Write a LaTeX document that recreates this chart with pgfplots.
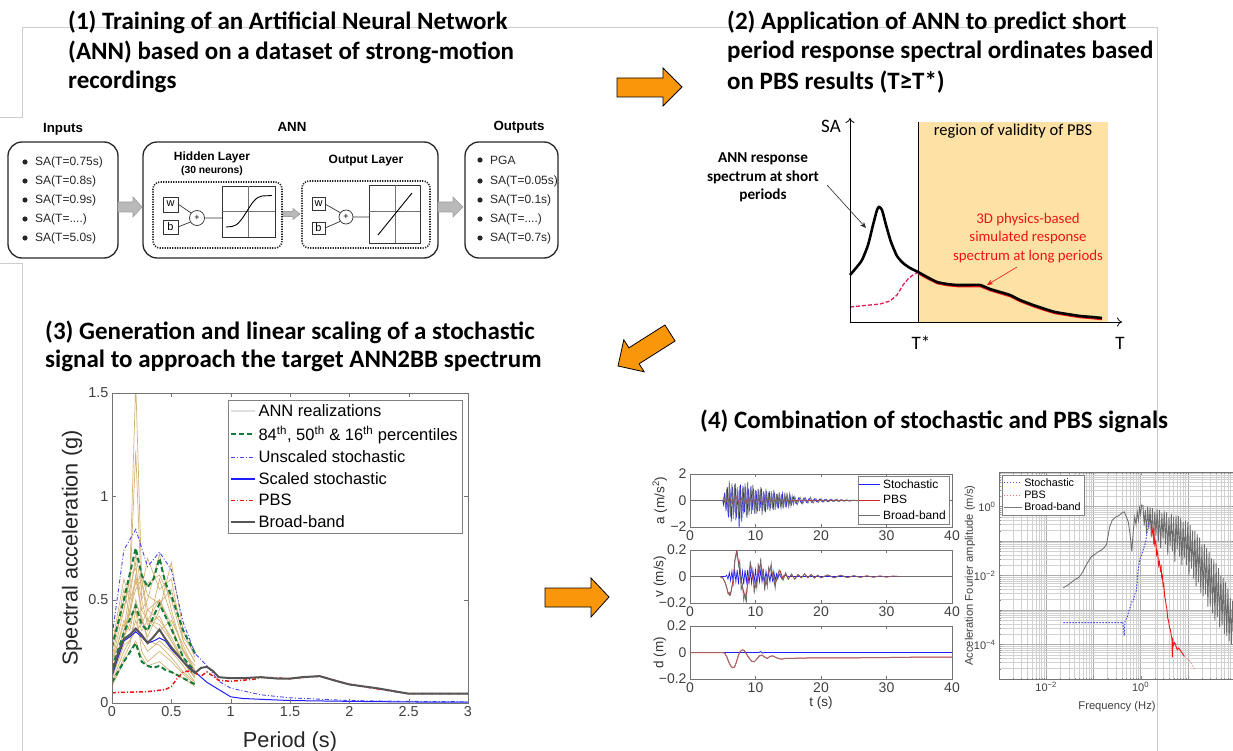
\documentclass[border=0pt]{standalone}
\usepackage{fontspec}
\setmainfont{Liberation Sans}
\newfontfamily\calfont{Carlito}
\usepackage{pgfplots}
\pgfplotsset{compat=1.18}
\usepackage{pgfplotstable}
\usetikzlibrary{arrows.meta}

\definecolor{orng}{RGB}{250,150,10}
\definecolor{tanl}{RGB}{212,178,118}
\definecolor{pgreen}{RGB}{20,125,60}
\definecolor{bblue}{RGB}{30,30,255}
\definecolor{ublue}{RGB}{70,70,235}
\definecolor{pbsred}{RGB}{240,20,20}
\definecolor{bbgray}{RGB}{85,85,85}
\definecolor{yreg}{RGB}{253,225,165}
\definecolor{frame}{RGB}{205,205,205}
\definecolor{tsred}{RGB}{210,40,35}
\definecolor{pinkred}{RGB}{232,25,85}

\pgfplotstableread{
T R1 R2 R3 R4 R5 R6 R7 R8 R9 R10 R11 R12 R13 R14 R15 R16
0 0.2 0.15 0.12 0.25 0.18 0.1 0.14 0.08 0.3 0.2 0.16 0.22 0.12 0.09 0.28 0.15
0.1 0.45 0.35 0.3 0.55 0.4 0.25 0.3 0.2 0.45 0.38 0.32 0.5 0.28 0.22 0.6 0.35
0.15 0.6 0.55 0.5 0.42 0.35 0.3 0.45 0.25 0.62 0.4 0.38 0.55 0.3 0.28 0.5 0.45
0.2 1.55 1.22 0.72 0.6 0.5 0.4 0.55 0.3 0.65 0.45 0.48 0.68 0.35 0.45 0.58 0.62
0.25 0.6 0.5 0.55 0.45 0.4 0.3 0.6 0.22 0.5 0.35 0.42 0.4 0.38 0.25 0.62 0.45
0.3 0.45 0.38 0.7 0.5 0.32 0.25 0.4 0.18 0.58 0.4 0.3 0.35 0.45 0.2 0.52 0.4
0.4 0.5 0.42 0.55 0.72 0.45 0.3 0.35 0.2 0.62 0.5 0.28 0.6 0.4 0.25 0.48 0.38
0.5 0.35 0.3 0.6 0.45 0.68 0.25 0.4 0.15 0.5 0.38 0.22 0.42 0.32 0.2 0.55 0.3
0.6 0.25 0.2 0.3 0.25 0.35 0.18 0.28 0.12 0.3 0.22 0.15 0.26 0.2 0.14 0.32 0.2
0.7 0.15 0.12 0.2 0.18 0.22 0.1 0.15 0.08 0.2 0.14 0.1 0.16 0.13 0.09 0.24 0.12
}\annreal

\pgfplotstableread{
T P84 P50 P16
0 0.27 0.17 0.1
0.1 0.5 0.34 0.2
0.2 0.75 0.47 0.29
0.25 0.62 0.38 0.2
0.3 0.56 0.35 0.18
0.35 0.6 0.42 0.17
0.4 0.7 0.48 0.18
0.45 0.58 0.42 0.16
0.5 0.52 0.36 0.15
0.6 0.35 0.22 0.12
0.7 0.24 0.15 0.09
}\perc

\begin{document}
\begin{tikzpicture}[x=1pt,y=1pt]
\useasboundingbox (0pt,0pt) rectangle (1233pt,-751pt);

\begin{scope}[y=-1pt]
\draw[frame,line width=1pt] (0,118)--(22,118)--(22,28)--(1157,28)--(1157,751);
\draw[frame,line width=1pt] (0,263)--(22,263)--(22,751);

\begin{scope}[every node/.style={anchor=west,font=\calfont\bfseries\fontsize{25}{28}\selectfont,inner sep=0pt}]
\node at (68,22) {(1) Training of an Artificial Neural Network};
\node at (68,52) {(ANN) based on a dataset of strong-motion};
\node at (68,82) {recordings};
\node at (727,22) {(2) Application of ANN to predict short};
\node at (727,52) {period response spectral ordinates based};
\node at (727,82) {on PBS results (T≥T*)};
\node at (45,332) {(3) Generation and linear scaling of a stochastic};
\node at (45,361) {signal to approach the target ANN2BB spectrum};
\node at (700,421) {(4) Combination of stochastic and PBS signals};
\end{scope}

\filldraw[fill=orng,draw=black,line width=0.8pt] (617,78)--(663,78)--(663,68)--(682,87)--(663,106)--(663,97)--(617,97)--cycle;
\filldraw[fill=orng,draw=black,line width=0.8pt] (545,588)--(591,588)--(591,578)--(609,597)--(591,617)--(591,607)--(545,607)--cycle;
\filldraw[fill=orng,draw=black,line width=0.8pt] (618,366)--(644.2,371.8)--(639.1,363.8)--(675.1,341.0)--(664.9,325.0)--(628.9,347.8)--(623.8,339.8)--cycle;

\begin{scope}[every node/.style={inner sep=0pt}]
\tikzset{annbox/.style={draw=black!85,line width=1.3pt,rounded corners=14pt},
 dotbox/.style={draw=black!85,line width=1.6pt,dash pattern=on 1.2pt off 1.3pt,rounded corners=7pt},
 garrow/.style={fill=gray!55,draw=gray!75,line width=0.6pt}}
\node[font=\bfseries\fontsize{13.3}{15}\selectfont] at (63,129) {Inputs};
\node[font=\bfseries\fontsize{13.3}{15}\selectfont] at (292,127) {ANN};
\node[font=\bfseries\fontsize{13.3}{15}\selectfont] at (519,127) {Outputs};
\draw[annbox] (8,142) rectangle (118,258);
\draw[annbox] (143,142) rectangle (438,258);
\draw[annbox] (465,142) rectangle (558,258);
\foreach \yy/\tt in {162/{SA(T=0.75s)},181/{SA(T=0.8s)},200/{SA(T=0.9s)},219/{SA(T=....)},238/{SA(T=5.0s)}}{
  \fill[black!85] (25,\yy) circle (2.6pt);
  \node[anchor=west,font=\fontsize{12}{14}\selectfont,text=black!85] at (35,\yy) {\tt};
}
\foreach \yy/\tt in {160/{PGA},181/{SA(T=0.05s)},200/{SA(T=0.1s)},219/{SA(T=....)},238/{SA(T=0.7s)}}{
  \fill[black!85] (480,\yy) circle (2.6pt);
  \node[anchor=west,font=\fontsize{12}{14}\selectfont,text=black!85] at (490,\yy) {\tt};
}
\draw[garrow] (118,202)--(133,202)--(133,197)--(142,207)--(133,217)--(133,212)--(118,212)--cycle;
\draw[garrow] (438,202)--(453,202)--(453,197)--(463,207)--(453,217)--(453,212)--(438,212)--cycle;
\draw[garrow] (283,211.5)--(293,211.5)--(293,208.5)--(300,214)--(293,219.5)--(293,216.5)--(283,216.5)--cycle;
\node[font=\bfseries\fontsize{12}{14}\selectfont] at (212,157) {Hidden Layer};
\node[font=\bfseries\fontsize{10.3}{12}\selectfont] at (212,171) {(30 neurons)};
\draw[dotbox] (153,182) rectangle (282,248);
\draw[black!80,line width=0.7pt] (163,197) rectangle (178,212);
\draw[black!80,line width=0.7pt] (163,220) rectangle (178,234);
\node[font=\fontsize{11}{12}\selectfont] at (170.5,204) {w};
\node[font=\fontsize{11}{12}\selectfont] at (170.5,227) {b};
\draw[black!80,line width=0.7pt] (197,218) circle (7.5pt);
\node[font=\fontsize{9}{10}\selectfont] at (197,218) {+};
\draw[black!80,line width=0.7pt] (178,204)--(191,213) (178,227)--(190.5,222) (204.5,218)--(222,218);
\draw[black!80,line width=0.7pt] (222,186) rectangle (275,237);
\draw[black!55,line width=0.6pt] (248,186)--(248,237) (222,211)--(275,211);
\draw[black,line width=0.9pt] (226,227)--(232,226.5) .. controls (244,225) and (250,197) .. (262,196)--(272,195.5);
\node[font=\bfseries\fontsize{12}{14}\selectfont] at (366,161) {Output Layer};
\draw[dotbox] (302,181) rectangle (430,248);
\draw[black!80,line width=0.7pt] (312,197) rectangle (325,210);
\draw[black!80,line width=0.7pt] (312,222) rectangle (325,234);
\node[font=\fontsize{11}{12}\selectfont] at (318.5,203.5) {w};
\node[font=\fontsize{11}{12}\selectfont] at (318.5,228) {b};
\draw[black!80,line width=0.7pt] (346,217) circle (7pt);
\node[font=\fontsize{9}{10}\selectfont] at (346,217) {+};
\draw[black!80,line width=0.7pt] (325,204)--(340,212.5) (325,228)--(340,221.5) (353,217)--(369,217);
\draw[black!80,line width=0.7pt] (369,185) rectangle (420,243);
\draw[black!55,line width=0.6pt] (395,185)--(395,243) (369,211)--(420,211);
\draw[black,line width=0.9pt] (378,235)--(412,193);
\end{scope}
\end{scope}

% ===== Panel 2: schematic =====
\begin{axis}[at={(850pt,-322pt)},anchor=south west,scale only axis,width=272pt,height=204pt,
  xmin=850,xmax=1122,ymin=0,ymax=204,axis lines=left,axis on top,
  axis line style={line width=0.8pt,-{To[length=5pt,width=9pt]}},
  xtick=\empty,ytick=\empty,clip=false]
\addplot[fill=yreg,draw=none] coordinates {(918,0)(1108,0)(1108,200)(918,200)} --cycle;
\addplot[black,line width=0.8pt] coordinates {(918,0)(918,200)};
\addplot[pinkred,line width=1.3pt,dash pattern=on 4pt off 2pt] coordinates {(850,15)(860,16)(870,17)(880,18)(890,21)(897,27)(903,37)(908,43)(913,47)(918,50)};
\addplot[pbsred,line width=1.5pt] coordinates {(918,48.5)(927,43.5)(937,38.5)(947,36.5)(957,35.5)(970,35.5)(980,35.5)(990,31.5)(1000,28.5)(1010,25.5)(1020,20.5)(1033,15.5)(1045,11.5)(1055,8.5)(1067,6.5)(1080,4.5)(1092,3.5)(1102,2.5)};
\addplot[black,line width=2.6pt,smooth,tension=0.4] coordinates {(850,47)(856,54)(862,62)(868,77)(873,97)(877,112)(879,115)(882,112)(886,97)(891,80)(897,66)(903,59)(910,54)(918,50)(927,45)(937,40)(947,38)(957,37)(970,37)(980,37)(990,33)(1000,30)(1010,27)(1020,22)(1033,17)(1045,13)(1055,10)(1067,8)(1080,6)(1092,5)(1102,4)};
\end{axis}
\begin{scope}[y=-1pt]
\node[font=\calfont\fontsize{19}{21}\selectfont] at (831,126) {SA};
\node[font=\calfont\fontsize{16.5}{18}\selectfont] at (1013,131) {region of validity of PBS};
\node[font=\calfont\fontsize{19}{21}\selectfont] at (921,343) {T*};
\node[font=\calfont\fontsize{19}{21}\selectfont] at (1120,343) {T};
\node[font=\calfont\bfseries\fontsize{15.2}{17}\selectfont] at (763,159) {ANN response};
\node[font=\calfont\bfseries\fontsize{15.2}{17}\selectfont] at (763,177) {spectrum at short};
\node[font=\calfont\bfseries\fontsize{15.2}{17}\selectfont] at (763,195) {periods};
\node[font=\calfont\fontsize{14.8}{17}\selectfont,text=pbsred] at (1028,220) {3D physics-based};
\node[font=\calfont\fontsize{14.8}{17}\selectfont,text=pbsred] at (1028,238) {simulated response};
\node[font=\calfont\fontsize{14.8}{17}\selectfont,text=pbsred] at (1028,257) {spectrum at long periods};
\draw[black!85,line width=0.6pt,-{Stealth[length=6pt,width=5pt]}] (827,185)--(866,228);
\draw[pbsred,line width=0.6pt,-{Stealth[length=6pt,width=5pt]}] (1017,267)--(987,285);
\end{scope}

% ===== Panel 3: spectral acceleration =====
\begin{axis}[at={(112pt,-703pt)},anchor=south west,scale only axis,width=356pt,height=310pt,
  xmin=0,xmax=3,ymin=0,ymax=1.5,
  xtick={0,0.5,1,1.5,2,2.5,3},xticklabels={0,0.5,1,1.5,2,2.5,3},
  ytick={0,0.5,1,1.5},yticklabels={0,0.5,1,1.5},
  tick label style={font=\fontsize{14.4}{16}\selectfont,text=black!75},
  axis line style={black!55},tick style={black!55},major tick length=4pt,
  axis on top,
  xlabel={Period (s)},ylabel={Spectral acceleration (g)},
  label style={font=\fontsize{21.7}{24}\selectfont,text=black!85},
  xlabel style={at={(axis description cs:0.5,-0.126)},anchor=center},
  ylabel style={at={(axis description cs:-0.112,0.5)},anchor=center},
  legend style={at={(axis description cs:0.983,0.977)},anchor=north east,draw=black!50,fill=white,
    font=\fontsize{16.5}{18}\selectfont,cells={anchor=west},inner sep=2pt,row sep=4.3pt},
  clip=true]
\addplot[tanl,line width=0.7pt,legend image code/.code={\draw[gray!25,line width=2.5pt] (0pt,0pt)--(24pt,0pt);}] table[x=T,y=R1]{\annreal};
\addlegendentry{ANN realizations}
\pgfplotsinvokeforeach{2,...,16}{\addplot[tanl,line width=0.7pt,forget plot] table[x=T,y=R#1]{\annreal};}
\addplot[pgreen,line width=2pt,dash pattern=on 5pt off 3pt,legend image code/.code={\draw[pgreen,line width=2pt,dash pattern=on 5pt off 3pt] (0pt,0pt)--(24pt,0pt);}] table[x=T,y=P84]{\perc};
\addlegendentry{84\textsuperscript{th}, 50\textsuperscript{th} \& 16\textsuperscript{th} percentiles}
\addplot[pgreen,line width=2pt,dash pattern=on 5pt off 3pt,forget plot] table[x=T,y=P50]{\perc};
\addplot[pgreen,line width=2pt,dash pattern=on 5pt off 3pt,forget plot] table[x=T,y=P16]{\perc};
\addplot[ublue,line width=0.9pt,dash pattern=on 4pt off 2pt on 1pt off 2pt,legend image code/.code={\draw[ublue,line width=1.1pt,dash pattern=on 4pt off 2pt on 1pt off 2pt] (0pt,0pt)--(24pt,0pt);}] coordinates {(0,0.32)(0.1,0.74)(0.2,0.84)(0.3,0.66)(0.4,0.73)(0.5,0.645)(0.6,0.39)(0.7,0.24)(0.8,0.18)(0.9,0.105)(1.0,0.072)(1.25,0.04)(1.5,0.025)(2,0.012)(2.5,0.008)(3,0.006)};
\addlegendentry{Unscaled stochastic}
\addplot[bblue,line width=1pt,legend image code/.code={\draw[bblue,line width=1.2pt] (0pt,0pt)--(24pt,0pt);}] coordinates {(0,0.13)(0.05,0.22)(0.1,0.3)(0.15,0.32)(0.2,0.345)(0.25,0.32)(0.3,0.29)(0.35,0.3)(0.4,0.315)(0.45,0.3)(0.5,0.26)(0.6,0.2)(0.7,0.15)(0.8,0.1)(0.9,0.065)(1.0,0.03)(1.1,0.022)(1.25,0.018)(1.5,0.012)(2,0.008)(2.5,0.005)(3,0.004)};
\addlegendentry{Scaled stochastic}
\addplot[pbsred,line width=1.5pt,dash pattern=on 4pt off 2pt on 1pt off 2pt,legend image code/.code={\draw[pbsred,line width=1.5pt,dash pattern=on 4pt off 2pt on 1pt off 2pt] (0pt,0pt)--(24pt,0pt);}] coordinates {(0,0.05)(0.3,0.055)(0.45,0.065)(0.5,0.08)(0.55,0.12)(0.6,0.15)(0.65,0.155)(0.7,0.145)(0.75,0.13)(0.8,0.15)(0.85,0.13)(0.9,0.11)(1.0,0.105)(1.1,0.11)(1.2,0.115)(1.25,0.125)(1.5,0.118)(1.75,0.13)(2,0.09)(2.5,0.045)(3,0.045)};
\addlegendentry{PBS}
\addplot[bbgray,line width=2pt,legend image code/.code={\draw[bbgray,line width=2pt] (0pt,0pt)--(24pt,0pt);}] coordinates {(0,0.14)(0.05,0.24)(0.1,0.31)(0.15,0.33)(0.2,0.36)(0.25,0.33)(0.3,0.29)(0.35,0.32)(0.4,0.355)(0.45,0.31)(0.5,0.27)(0.55,0.235)(0.6,0.2)(0.65,0.17)(0.7,0.145)(0.75,0.17)(0.8,0.175)(0.85,0.155)(0.9,0.125)(1.0,0.12)(1.1,0.12)(1.25,0.125)(1.4,0.118)(1.5,0.118)(1.6,0.125)(1.75,0.13)(1.9,0.105)(2.0,0.09)(2.25,0.07)(2.5,0.045)(2.75,0.045)(3,0.045)};
\addlegendentry{Broad-band}
\end{axis}

% ===== Panel 4: time series =====
\pgfplotsset{ts/.style={scale only axis,width=262pt,height=53pt,xmin=0,xmax=40,
  xtick={0,10,20,30,40},xticklabels={0,10,20,30,40},
  tick label style={font=\fontsize{14}{15}\selectfont,text=black!75},
  axis line style={black!55},tick style={black!55},major tick length=3pt,
  label style={font=\fontsize{13.5}{15}\selectfont,text=black!80},
  ylabel style={at={(axis description cs:-0.115,0.5)},anchor=center},
  clip=true}}
\begin{axis}[ts,at={(690pt,-527pt)},anchor=south west,ymin=-2,ymax=2,ytick={-2,0,2},yticklabels={−2,0,2},
  ylabel={a (m/s\textsuperscript{2})},
  legend style={at={(axis description cs:0.989,0.962)},anchor=north east,draw=black!50,fill=white,
    font=\fontsize{12}{13}\selectfont,cells={anchor=west},inner sep=1.2pt,row sep=1.5pt}]
\addplot[bblue,line width=0.7pt,legend image code/.code={\draw[bblue,line width=1.1pt] (0pt,0pt)--(21pt,0pt);}] coordinates {(0,0)(5,0)(5.1,-0.3)(5.3,0.6)(5.5,-0.8)(5.7,1.0)(5.9,-1.3)(6.1,0.9)(6.3,-1.6)(6.5,1.0)(6.7,-0.9)(6.9,1.3)(7.1,-1.3)(7.3,0.8)(7.5,-2.0)(7.7,1.2)(7.9,-1.6)(8.1,1.1)(8.3,-0.9)(8.5,1.0)(8.7,-1.3)(8.9,0.9)(9.1,-0.8)(9.3,1.1)(9.5,-0.7)(9.7,0.9)(9.9,-1.0)(10.1,0.7)(10.3,-0.8)(10.5,0.8)(10.7,-0.6)(10.9,0.9)(11.1,-0.8)(11.3,0.6)(11.5,-0.9)(11.7,0.7)(11.9,-0.6)(12.1,0.7)(12.3,-0.6)(12.5,0.5)(12.7,-0.7)(12.9,0.6)(13.1,-0.5)(13.3,0.5)(13.5,-0.6)(13.7,0.4)(13.9,-0.5)(14.1,0.5)(14.3,-0.4)(14.5,0.4)(14.7,-0.4)(14.9,0.3)(15.1,-0.4)(15.3,0.3)(15.5,-0.3)(15.8,0.25)(16.2,-0.25)(16.6,0.2)(17.0,-0.2)(17.4,0.2)(17.8,-0.15)(18.2,0.15)(18.6,-0.15)(19.0,0.12)(19.4,-0.12)(19.8,0.1)(20.2,-0.1)(20.6,0.08)(21.0,-0.08)(21.4,0.07)(21.8,-0.06)(22.2,0.06)(22.6,-0.05)(23.0,0.05)(23.4,-0.04)(23.8,0.04)(24.2,-0.03)(24.6,0.02)(25,0)(40,0)};
\addlegendentry{Stochastic}
\addplot[tsred,line width=0.7pt,legend image code/.code={\draw[tsred,line width=0.9pt] (0pt,0pt)--(21pt,0pt);}] coordinates {(0,0)(5,0)(5.5,-0.1)(6,0.2)(6.5,-0.25)(7,0.3)(7.5,-0.2)(8,0.25)(8.5,-0.2)(9,0.15)(9.5,-0.15)(10,0.1)(11,-0.1)(12,0.08)(13,-0.05)(14,0.05)(15,-0.03)(17,0.02)(20,-0.01)(25,0)(40,0)};
\addlegendentry{PBS}
\addplot[bbgray!85,line width=0.7pt,legend image code/.code={\draw[bbgray!85,line width=0.8pt] (0pt,0pt)--(21pt,0pt);}] coordinates {(0,0)(5,0)(5.2,0.3)(5.4,-0.5)(5.6,0.9)(5.8,-1.1)(6.0,1.5)(6.2,-1.2)(6.4,1.3)(6.6,-1.4)(6.8,1.2)(7.0,-1.5)(7.2,1.0)(7.4,-1.2)(7.6,1.1)(7.8,-1.4)(8.0,0.9)(8.2,-1.0)(8.4,1.3)(8.6,-1.2)(8.8,1.4)(9.0,-1.1)(9.2,0.9)(9.4,-1.0)(9.6,1.2)(9.8,-0.9)(10.0,0.8)(10.2,-1.0)(10.4,0.9)(10.6,-0.8)(10.8,1.0)(11.0,-1.1)(11.2,0.7)(11.4,-0.8)(11.6,0.9)(11.8,-0.7)(12.0,0.6)(12.2,-0.8)(12.4,0.7)(12.6,-0.6)(12.8,0.8)(13.0,-0.7)(13.2,0.5)(13.4,-0.6)(13.6,0.6)(13.8,-0.5)(14.0,0.5)(14.2,-0.6)(14.4,0.4)(14.6,-0.5)(14.8,0.6)(15.0,-0.4)(15.2,0.5)(15.4,-0.4)(15.6,0.35)(15.8,-0.3)(16.0,0.3)(16.4,-0.3)(16.8,0.25)(17.2,-0.25)(17.6,0.2)(18.0,-0.2)(18.4,0.25)(18.8,-0.2)(19.2,0.15)(19.6,-0.15)(20.0,0.15)(20.4,-0.12)(20.8,0.1)(21.2,-0.1)(21.6,0.1)(22.0,-0.08)(22.4,0.1)(22.8,-0.08)(23.2,0.07)(23.6,-0.06)(24.0,0.05)(24.4,-0.05)(25.0,0.03)(25.5,-0.02)(26,0)(40,0)};
\addlegendentry{Broad-band}
\end{axis}

\begin{axis}[ts,at={(690pt,-603pt)},anchor=south west,ymin=-0.2,ymax=0.2,ytick={-0.2,0,0.2},yticklabels={−0.2,0,0.2},
  ylabel={v (m/s)}]
\addplot[bblue,line width=0.7pt] coordinates {(0,0)(5.4,0)(5.6,0.01)(5.8,-0.02)(6.0,0.03)(6.2,-0.03)(6.4,0.04)(6.6,-0.05)(6.8,0.06)(7.0,-0.04)(7.2,0.05)(7.4,-0.06)(7.6,0.07)(7.8,-0.05)(8.0,0.04)(8.2,-0.06)(8.4,0.05)(8.6,-0.04)(8.8,0.05)(9.0,-0.06)(9.2,0.04)(9.4,-0.05)(9.6,0.05)(9.8,-0.04)(10.0,0.05)(10.2,-0.05)(10.4,0.04)(10.6,-0.04)(10.8,0.05)(11.0,-0.04)(11.2,0.03)(11.4,-0.04)(11.6,0.04)(11.8,-0.03)(12.0,0.03)(12.2,-0.04)(12.4,0.03)(12.6,-0.03)(12.8,0.04)(13.0,-0.03)(13.2,0.02)(13.4,-0.02)(13.6,0.02)(14.0,-0.015)(14.4,0.01)(15,0)(40,0)};
\addplot[tsred,line width=0.8pt] coordinates {(0,0)(4.5,0)(5.0,-0.01)(5.4,-0.05)(5.8,-0.12)(6.0,-0.14)(6.3,-0.11)(6.6,-0.02)(6.9,0.14)(7.1,0.19)(7.3,0.14)(7.6,0.05)(7.9,-0.05)(8.2,-0.12)(8.5,-0.17)(8.8,-0.06)(9.1,0.06)(9.3,0.08)(9.6,-0.02)(9.9,-0.09)(10.2,-0.04)(10.5,0.06)(10.8,0.09)(11.1,0.03)(11.4,-0.07)(11.7,-0.05)(12.0,0.04)(12.3,0.07)(12.6,0.02)(12.9,-0.06)(13.2,-0.03)(13.5,0.03)(13.8,0.04)(14.2,-0.02)(14.6,0.02)(15.0,-0.02)(15.5,0.015)(16,-0.02)(16.5,0.015)(17,-0.01)(17.5,0.02)(18,-0.01)(18.5,0.015)(19,-0.012)(19.5,0.01)(20,-0.01)(21,0.012)(22,-0.01)(23,0.01)(24,-0.008)(25,0.006)(26,-0.006)(27,0.005)(28,-0.005)(29,0.004)(30,-0.004)(31,0.003)(32,0)(40,0)};
\addplot[bbgray!85,line width=0.7pt] coordinates {(0,0)(4.5,0)(5.0,-0.01)(5.4,-0.05)(5.6,-0.08)(5.8,-0.13)(6.0,-0.12)(6.2,-0.14)(6.4,-0.07)(6.6,-0.07)(6.8,0.12)(7.0,0.14)(7.2,0.2)(7.4,0.08)(7.6,0.12)(7.8,-0.1)(8.0,-0.06)(8.2,-0.18)(8.4,-0.12)(8.6,-0.2)(8.8,-0.01)(9.0,0.01)(9.2,0.12)(9.4,0.03)(9.6,0.03)(9.8,-0.13)(10.0,-0.03)(10.2,-0.09)(10.4,0.1)(10.6,0.03)(10.8,0.14)(11.0,-0.01)(11.2,0.06)(11.4,-0.11)(11.6,-0.01)(11.8,-0.08)(12.0,0.07)(12.2,0.03)(12.4,0.1)(12.6,-0.01)(12.8,0.02)(13.0,-0.09)(13.2,-0.01)(13.4,0.01)(13.6,0.05)(13.8,0.02)(14.2,-0.03)(14.6,0.03)(15.0,-0.02)(15.5,0.02)(16,-0.02)(16.5,0.015)(17,-0.01)(17.5,0.02)(18,-0.01)(18.5,0.015)(19,-0.012)(19.5,0.01)(20,-0.01)(21,0.012)(22,-0.01)(23,0.01)(24,-0.008)(25,0.006)(26,-0.006)(27,0.005)(28,-0.005)(29,0.004)(30,-0.004)(31,0.003)(32,0)(40,0)};
\end{axis}

\begin{axis}[ts,at={(690pt,-679pt)},anchor=south west,ymin=-0.2,ymax=0.2,ytick={-0.2,0,0.2},yticklabels={−0.2,0,0.2},
  ylabel={d (m)},xlabel={t (s)},xlabel style={at={(axis description cs:0.5,-0.45)},anchor=center}]
\addplot[bblue,line width=0.9pt] coordinates {(0,0)(10.5,0)(10.8,0.006)(11.1,-0.004)(11.4,0)(40,0)};
\addplot[tsred,line width=1pt] coordinates {(0,0)(5,0)(5.3,-0.005)(5.6,-0.03)(5.9,-0.07)(6.2,-0.1)(6.5,-0.115)(6.8,-0.11)(7.1,-0.07)(7.4,-0.02)(7.7,0.01)(8.0,0.02)(8.3,0.015)(8.6,-0.01)(9.0,-0.04)(9.4,-0.065)(9.8,-0.07)(10.2,-0.05)(10.6,-0.025)(11.0,-0.02)(11.4,-0.035)(11.8,-0.045)(12.2,-0.03)(12.6,-0.025)(13.0,-0.035)(13.5,-0.045)(14.0,-0.05)(14.5,-0.045)(15,-0.045)(17,-0.042)(20,-0.04)(25,-0.04)(30,-0.038)(35,-0.035)(40,-0.035)};
\addplot[bbgray!70,line width=0.5pt] coordinates {(0,0)(5,0)(5.3,-0.005)(5.6,-0.03)(5.9,-0.07)(6.2,-0.1)(6.5,-0.115)(6.8,-0.11)(7.1,-0.07)(7.4,-0.02)(7.7,0.01)(8.0,0.02)(8.3,0.015)(8.6,-0.01)(9.0,-0.04)(9.4,-0.065)(9.8,-0.07)(10.2,-0.05)(10.6,-0.025)(11.0,-0.02)(11.4,-0.035)(11.8,-0.045)(12.2,-0.03)(12.6,-0.025)(13.0,-0.035)(13.5,-0.045)(14.0,-0.05)(14.5,-0.045)(15,-0.045)(17,-0.042)(20,-0.04)(25,-0.04)(30,-0.038)(35,-0.035)(40,-0.035)};
\end{axis}

% ===== Panel 4: Fourier spectrum (log10 values on both axes) =====
\begin{axis}[at={(999pt,-679pt)},anchor=south west,scale only axis,width=236pt,height=207pt,
  xmin=-3,xmax=2,ymin=-5,ymax=1,
  xtick={-3,-2,-1,0,1,2},xticklabels={,10\textsuperscript{−2},,10\textsuperscript{0},,},
  ytick={-5,-4,-3,-2,-1,0,1},yticklabels={,10\textsuperscript{−4},,10\textsuperscript{−2},,10\textsuperscript{0},},
  minor xtick={-2.699,-2.523,-2.398,-2.301,-2.222,-2.155,-2.097,-2.046,-1.699,-1.523,-1.398,-1.301,-1.222,-1.155,-1.097,-1.046,-0.699,-0.523,-0.398,-0.301,-0.222,-0.155,-0.097,-0.046,0.301,0.477,0.602,0.699,0.778,0.845,0.903,0.954,1.301,1.477,1.602,1.699,1.778,1.845,1.903,1.954},
  minor ytick={-4.699,-4.523,-4.398,-4.301,-4.222,-4.155,-4.097,-4.046,-3.699,-3.523,-3.398,-3.301,-3.222,-3.155,-3.097,-3.046,-2.699,-2.523,-2.398,-2.301,-2.222,-2.155,-2.097,-2.046,-1.699,-1.523,-1.398,-1.301,-1.222,-1.155,-1.097,-1.046,-0.699,-0.523,-0.398,-0.301,-0.222,-0.155,-0.097,-0.046,0.301,0.477,0.602,0.699,0.778,0.845,0.903,0.954},
  grid=both,major grid style={black!32,line width=0.5pt},minor grid style={black!18,line width=0.4pt},
  tick label style={font=\fontsize{11}{12}\selectfont,text=black!75},
  axis line style={black!55},tick style={black!45},major tick length=3pt,minor tick length=1.5pt,
  xlabel={Frequency (Hz)},ylabel={Acceleration Fourier amplitude (m/s)},
  label style={font=\fontsize{11.2}{12}\selectfont,text=black!75},
  xlabel style={at={(axis description cs:0.5,-0.135)},anchor=center},
  ylabel style={at={(axis description cs:-0.123,0.5)},anchor=center},
  legend style={at={(axis description cs:0.013,0.985)},anchor=north west,draw=black!50,fill=white,
    font=\fontsize{10.8}{12}\selectfont,cells={anchor=west},inner sep=1pt,row sep=-1pt},
  clip=true]
\addplot[bbgray!85,line width=0.85pt,forget plot] coordinates {(-1.638,-2.357)(-1.523,-2.26)(-1.398,-2.125)(-1.301,-2.046)(-1.222,-1.886)(-1.155,-1.699)(-1.046,-1.456)(-0.959,-1.377)(-0.886,-1.301)(-0.824,-1.26)(-0.77,-1.187)(-0.721,-1.097)(-0.699,-0.921)(-0.658,-0.602)(-0.602,-0.398)(-0.523,-0.301)(-0.456,-0.26)(-0.398,-0.187)(-0.347,-0.155)(-0.301,-0.301)(-0.26,-0.456)(-0.222,-0.824)(-0.187,-1.301)(-0.155,-0.699)(-0.125,-0.301)(-0.097,-0.523)(-0.071,-0.155)(-0.046,-0.398)(-0.022,-0.046)(0,-0.222)(0.021,0.041)(0.05,0.031)(0.075,-0.55)(0.10,-0.1)(0.125,-0.8)(0.15,-0.006)(0.175,-0.65)(0.20,-0.025)(0.225,-0.9)(0.25,-0.044)(0.275,-1.1)(0.30,-0.15)(0.325,-0.85)(0.35,-0.081)(0.375,-1.0)(0.40,-0.1)(0.425,-1.2)(0.45,-0.2)(0.475,-0.95)(0.50,-0.145)(0.525,-1.1)(0.55,-0.168)(0.575,-1.4)(0.60,-0.3)(0.625,-1.15)(0.65,-0.213)(0.675,-1.3)(0.70,-0.3)(0.725,-1.6)(0.75,-0.258)(0.775,-1.25)(0.80,-0.28)(0.825,-1.45)(0.85,-0.323)(0.875,-1.7)(0.90,-0.45)(0.925,-1.5)(0.95,-0.408)(0.975,-1.7)(1.00,-0.45)(1.025,-2.0)(1.05,-0.538)(1.075,-1.8)(1.10,-0.7)(1.125,-2.1)(1.15,-0.713)(1.175,-2.3)(1.20,-0.8)(1.225,-2.2)(1.25,-0.9)(1.275,-2.5)(1.30,-1.1)(1.325,-2.6)(1.35,-1.1)(1.375,-2.55)(1.40,-1.2)(1.425,-2.9)(1.45,-1.313)(1.475,-2.9)(1.50,-1.5)(1.525,-3.1)(1.55,-1.538)(1.575,-3.3)(1.60,-1.65)(1.625,-3.2)(1.65,-1.788)(1.675,-3.5)(1.70,-2.0)(1.725,-3.45)(1.75,-2.063)(1.775,-3.7)(1.80,-2.2)(1.825,-3.75)(1.85,-2.375)(1.875,-3.9)(1.90,-2.65)(1.925,-4.0)(1.95,-2.725)(1.975,-4.1)(2.0,-2.9)};
\addplot[ublue,line width=1pt,dash pattern=on 1.5pt off 1.5pt,legend image code/.code={\draw[ublue,line width=1pt,dash pattern=on 1.5pt off 1.5pt] (0pt,0pt)--(18pt,0pt);}] coordinates {(-1.638,-3.367)(-0.398,-3.367)(-0.377,-3.347)(-0.347,-3.745)(-0.328,-3.301)(-0.284,-3.222)(-0.252,-3.046)(-0.222,-2.921)(-0.18,-2.745)(-0.149,-2.699)(-0.119,-2.523)(-0.086,-2.42)(-0.066,-2.0)(-0.022,-1.553)(0.021,-1.398)(0.061,-1.222)(0.104,-1.046)(0.146,-0.699)(0.176,-0.456)(0.21,-0.347)};
\addlegendentry{Stochastic}
\addplot[pbsred,line width=0.9pt,legend image code/.code={\draw[pbsred!60,line width=1pt,dash pattern=on 1.5pt off 1.5pt] (0pt,0pt)--(18pt,0pt);}] coordinates {(0.23,-0.52)(0.26,-0.8)(0.279,-0.68)(0.30,-1.1)(0.322,-1.0)(0.34,-1.4)(0.362,-1.3)(0.38,-1.7)(0.398,-1.6)(0.42,-1.84)(0.435,-1.75)(0.447,-2.05)(0.46,-2.0)(0.477,-2.3)(0.49,-2.25)(0.51,-2.6)(0.526,-2.7)(0.54,-2.85)(0.556,-2.96)(0.575,-3.25)(0.591,-3.3)(0.61,-3.5)(0.633,-3.585)(0.65,-3.75)(0.663,-3.82)(0.672,-4.37)(0.677,-3.8)(0.695,-4.03)(0.72,-3.95)(0.74,-4.0)(0.76,-4.1)(0.778,-4.155)(0.81,-4.1)(0.842,-4.167)(0.88,-4.25)(0.929,-4.347)};
\addlegendentry{PBS}
\addplot[pbsred!45,line width=0.9pt,dash pattern=on 1.5pt off 1.5pt,forget plot] coordinates {(0.929,-4.347)(1.053,-4.495)(1.158,-4.745)};
\addlegendimage{legend image code/.code={\draw[bbgray!80,line width=0.7pt] (0pt,0pt)--(18pt,0pt);}}
\addlegendentry{Broad-band}
\end{axis}

\end{tikzpicture}
\end{document}
